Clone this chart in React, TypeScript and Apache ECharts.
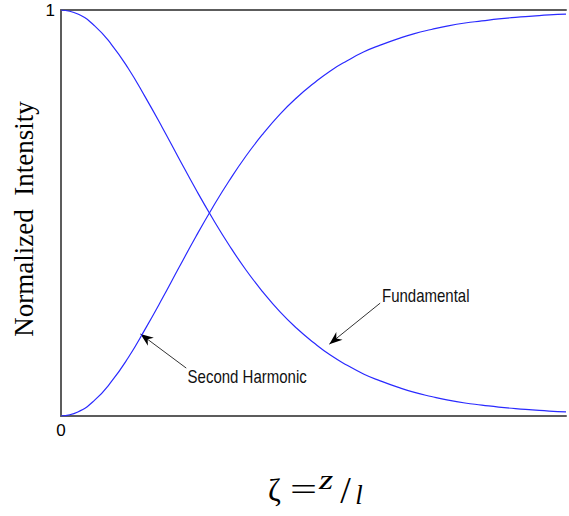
import React, { useEffect, useRef } from "react";
import * as echarts from "echarts";

// Normalized propagation distance ζ = z / l
const zeta = [
  0, 0.1, 0.2, 0.3, 0.4, 0.5, 0.6, 0.7, 0.8, 0.9, 1.0, 1.1, 1.2, 1.3, 1.4, 1.5,
  1.6, 1.7, 1.8, 1.9, 2.0, 2.1, 2.2, 2.3, 2.4, 2.5, 2.6, 2.7, 2.8, 2.9, 3.0,
];

// Second harmonic intensity (grows from 0 to 1)
const secondHarmonic = [
  0, 0.01, 0.039, 0.085, 0.144, 0.214, 0.288, 0.365, 0.441, 0.513, 0.58, 0.641,
  0.695, 0.743, 0.784, 0.819, 0.85, 0.875, 0.897, 0.914, 0.929, 0.942, 0.952,
  0.961, 0.968, 0.973, 0.978, 0.982, 0.985, 0.988, 0.99,
];

// Fundamental intensity (depletes from 1 to 0)
const fundamental = [
  1, 0.99, 0.961, 0.915, 0.856, 0.786, 0.712, 0.635, 0.559, 0.487, 0.42, 0.359,
  0.305, 0.257, 0.216, 0.181, 0.15, 0.125, 0.103, 0.086, 0.071, 0.058, 0.048,
  0.039, 0.032, 0.027, 0.022, 0.018, 0.015, 0.012, 0.01,
];

const yTickLabels = ["1"];
const xTickLabels = ["0"];

// Annotation callouts in data coordinates: arrow tip, arrow tail, label anchor
const callouts = [
  { text: "Second Harmonic", tip: [0.472, 0.202], tail: [0.744, 0.118], at: [0.752, 0.096] },
  { text: "Fundamental", tip: [1.594, 0.177], tail: [1.896, 0.278], at: [1.907, 0.296] },
];

const LABEL_FONT = '"Liberation Sans", Arial, sans-serif';
const SERIF_FONT = '"Liberation Serif", "Times New Roman", serif';

function arrowHead(tip: number[], tail: number[]) {
  const dx = tip[0] - tail[0];
  const dy = tip[1] - tail[1];
  const len = Math.hypot(dx, dy) || 1;
  const ux = dx / len;
  const uy = dy / len;
  const px = -uy;
  const py = ux;
  const L = 13;
  const W = 5;
  const N = 9;
  return [
    [tip[0], tip[1]],
    [tip[0] - ux * L + px * W, tip[1] - uy * L + py * W],
    [tip[0] - ux * N, tip[1] - uy * N],
    [tip[0] - ux * L - px * W, tip[1] - uy * L - py * W],
  ];
}

export default function App() {
  const ref = useRef<HTMLDivElement>(null);

  useEffect(() => {
    if (!ref.current) return;
    const chart = echarts.init(ref.current, null, { renderer: "svg" });
    const frame = { show: true, lineStyle: { color: "#5c5c5c", width: 2 } };

    chart.setOption({
      animation: false,
      backgroundColor: "#ffffff",
      grid: { left: 61, top: 10, width: 508, height: 406 },
      xAxis: [
        {
          type: "value",
          min: 0,
          max: 3,
          interval: 3,
          axisLine: frame,
          axisTick: { show: false },
          splitLine: { show: false },
          axisLabel: {
            margin: 6,
            color: "#000",
            fontSize: 17,
            fontFamily: LABEL_FONT,
            formatter: (v: number) => (v === 0 ? xTickLabels[0] : ""),
          },
        },
        {
          type: "value",
          position: "top",
          min: 0,
          max: 3,
          interval: 3,
          axisLine: frame,
          axisTick: { show: false },
          axisLabel: { show: false },
          splitLine: { show: false },
        },
      ],
      yAxis: {
        type: "value",
        min: 0,
        max: 1,
        interval: 1,
        axisLine: frame,
        axisTick: { show: false },
        splitLine: { show: false },
        axisLabel: {
          margin: 6,
          color: "#000",
          fontSize: 17,
          fontFamily: LABEL_FONT,
          formatter: (v: number) => (v === 1 ? yTickLabels[0] : ""),
        },
      },
      series: [
        {
          name: "Second Harmonic",
          type: "line",
          xAxisIndex: 0,
          data: zeta.map((z, i) => [z, secondHarmonic[i]]),
          smooth: true,
          showSymbol: false,
          lineStyle: { color: "#2a2aff", width: 1.2 },
        },
        {
          name: "Fundamental",
          type: "line",
          xAxisIndex: 0,
          data: zeta.map((z, i) => [z, fundamental[i]]),
          smooth: true,
          showSymbol: false,
          lineStyle: { color: "#2a2aff", width: 1.2 },
        },
      ],
    });

    const px = (p: number[]) =>
      chart.convertToPixel({ xAxisIndex: 0, yAxisIndex: 0 }, p) as number[];

    const graphic: any[] = [];
    callouts.forEach((c) => {
      const tip = px(c.tip);
      const tail = px(c.tail);
      const at = px(c.at);
      graphic.push({
        type: "line",
        shape: { x1: tail[0], y1: tail[1], x2: tip[0], y2: tip[1] },
        style: { stroke: "#333", lineWidth: 1 },
      });
      graphic.push({
        type: "polygon",
        shape: { points: arrowHead(tip, tail) },
        style: { fill: "#000" },
      });
      graphic.push({
        type: "text",
        x: at[0],
        y: at[1],
        scaleY: 1.25,
        style: {
          text: c.text,
          font: `15px ${LABEL_FONT}`,
          fill: "#111",
          align: "left",
          verticalAlign: "middle",
        },
      });
    });

    // Vertical axis title
    graphic.push({
      type: "text",
      x: 24,
      y: 219,
      rotation: Math.PI / 2,
      style: {
        text: "Normalized  Intensity",
        font: `27px ${SERIF_FONT}`,
        fill: "#000",
        align: "center",
        verticalAlign: "middle",
      },
    });

    // Horizontal axis title: ζ = z / l
    graphic.push(
      {
        type: "text",
        x: 274.5,
        y: 490,
        style: { text: "ζ", font: `31px ${SERIF_FONT}`, fill: "#000", align: "center", verticalAlign: "middle" },
      },
      {
        type: "text",
        x: 303.5,
        y: 489,
        scaleX: 1.5,
        style: { text: "=", font: `32px ${SERIF_FONT}`, fill: "#000", align: "center", verticalAlign: "middle" },
      },
      {
        type: "text",
        x: 326,
        y: 480,
        scaleX: 1.35,
        style: { text: "z", font: `italic 27px ${SERIF_FONT}`, fill: "#000", align: "center", verticalAlign: "middle" },
      },
      {
        type: "text",
        x: 345.5,
        y: 490,
        style: { text: "/", font: `38px ${SERIF_FONT}`, fill: "#000", align: "center", verticalAlign: "middle" },
      },
      {
        type: "text",
        x: 359,
        y: 495,
        style: { text: "l", font: `italic 27px ${SERIF_FONT}`, fill: "#000", align: "center", verticalAlign: "middle" },
      }
    );

    chart.setOption({ graphic });

    return () => chart.dispose();
  }, []);

  return (
    <div
      ref={ref}
      style={{ position: "fixed", left: 0, top: 0, width: 569, height: 516 }}
    />
  );
}
